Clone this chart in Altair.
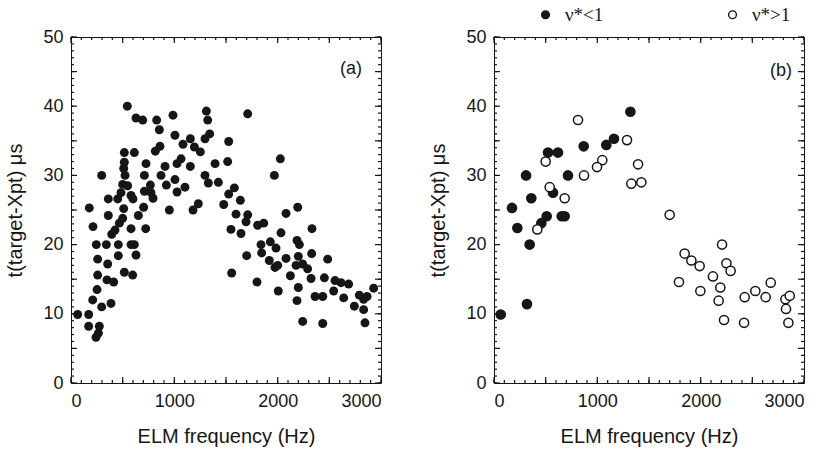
import altair as alt
import pandas as pd

# ---------------- data ----------------
# panel (a): all ELMs
a_freq = [545, 629, 694, 829, 855, 987, 1310, 1323, 1342, 1297, 1710, 1006, 1155, 1084, 1194,
          1252, 861, 816, 1526, 516, 613, 516, 510, 523, 726, 297, 710, 910, 1065, 1026,
          1155, 1516, 1394, 2026, 1968, 871, 1006, 1297, 1329, 1426, 500, 548, 768, 923, 1103,
          1026, 484, 581, 710, 774, 794, 361, 452, 600, 1526, 1581, 1639, 1232, 1478,
          177, 510, 703, 952, 1181, 2194,
          65, 171, 171, 274, 265, 242, 213, 245, 258, 258, 252, 210, 297, 387, 342, 355, 348,
          413, 361, 394, 426, 468, 500, 458, 458, 516, 581, 581, 613, 597, 629, 652, 723,
          1548, 1555, 1597, 1645, 1694, 1710, 1700, 1800, 1806, 1865, 1839, 1845, 1929, 1984,
          1919, 1974, 2000, 2006, 2032, 2081, 2081, 2123, 2187, 2210, 2200, 2178, 2242, 2200,
          2187, 2242, 2290, 2323, 2332, 2329, 2362, 2436, 2436, 2452, 2484, 2542, 2555, 2613,
          2639, 2687, 2742, 2790, 2832, 2865, 2832, 2845, 2929]
a_time = [40.0, 38.3, 38.0, 38.0, 36.6, 38.7, 39.3, 38.0, 36.0, 35.3, 38.9, 35.8, 35.3, 34.5, 34.1,
          33.4, 34.2, 33.5, 34.9, 33.3, 33.3, 31.9, 31.0, 30.0, 31.7, 30.0, 30.0, 31.3, 32.4, 31.7,
          31.3, 32.0, 31.7, 32.4, 30.0, 30.0, 29.4, 30.0, 28.9, 29.0, 28.7, 28.5, 28.6, 28.6, 28.3,
          27.6, 27.5, 27.1, 27.7, 27.5, 26.7, 26.6, 26.6, 26.6, 27.3, 28.2, 26.4, 25.9, 25.8,
          25.3, 25.2, 25.4, 25.0, 25.0, 25.4,
          9.9, 9.9, 8.2, 8.2, 7.2, 6.6, 22.6, 20.0, 17.9, 15.6, 13.5, 12.0, 11.0, 11.5, 20.0, 17.2, 14.9,
          14.6, 24.2, 21.5, 22.1, 23.1, 23.8, 20.0, 18.4, 16.0, 22.3, 20.0, 20.0, 15.6, 18.5, 24.2, 22.3,
          22.2, 15.9, 24.4, 21.6, 23.3, 24.3, 18.4, 14.6, 22.8, 23.1, 20.0, 18.8, 20.4, 19.5,
          17.7, 16.7, 17.0, 13.3, 21.7, 24.5, 18.0, 15.5, 20.6, 20.0, 18.3, 17.0, 17.2, 13.8,
          11.9, 8.9, 16.5, 15.1, 22.3, 18.7, 12.5, 12.5, 8.6, 15.2, 17.9, 13.3, 14.8, 14.5,
          12.3, 14.3, 11.1, 12.7, 12.1, 12.5, 10.6, 8.7, 13.7]

# panel (b): split by collisionality
low_label = "ν*<1"
high_label = "ν*>1"
b_low_freq = [1320, 1161, 1087, 868, 523, 619, 310, 716, 361, 571, 174, 510, 655, 684, 226, 458, 345, 319, 65]
b_low_time = [39.2, 35.3, 34.4, 34.2, 33.3, 33.3, 30.0, 30.0, 26.7, 27.5, 25.3, 24.1, 24.1, 24.1, 22.4, 23.1, 20.0, 11.4, 9.9]
b_high_freq = [813, 1287, 500, 1048, 997, 871, 1394, 1329, 1426, 539, 684, 1700, 419, 1845, 1910, 1990, 1790,
               1997, 2207, 2249, 2290, 2119, 2190, 2174, 2226, 2426, 2420, 2529, 2629, 2678, 2820, 2862, 2826, 2849]
b_high_time = [38.0, 35.1, 32.0, 32.2, 31.2, 30.0, 31.6, 28.8, 29.0, 28.3, 26.7, 24.3, 22.2, 18.7, 17.7, 16.9, 14.6,
               13.3, 20.0, 17.3, 16.2, 15.4, 13.8, 11.9, 9.1, 12.4, 8.7, 13.3, 12.4, 14.5, 12.1, 12.6, 10.7, 8.7]

x_major = list(range(0, 3001, 500))
x_minor = list(range(0, 3001, 100))
y_major = list(range(0, 51, 5))
y_minor = list(range(0, 51, 1))
x_labels = [0, 1000, 2000, 3000]
y_labels = [0, 10, 20, 30, 40, 50]

# ---------------- build ----------------
W, H = 310, 346
SANS = "Liberation Sans"
SERIF = "Liberation Serif"
INK = "#161616"
MAJ, MIN = 6, 3

df_a = pd.DataFrame({"f": a_freq, "t": a_time})
df_b = pd.concat([
    pd.DataFrame({"f": b_low_freq, "t": b_low_time, "g": low_label}),
    pd.DataFrame({"f": b_high_freq, "t": b_high_time, "g": high_label}),
], ignore_index=True)

xs = alt.Scale(domain=[0, 3000], nice=False, zero=False)
ys = alt.Scale(domain=[0, 50], nice=False, zero=False)

X_TITLE = "ELM frequency (Hz)"
Y_TITLE = "t(target-Xpt)  μs"

AXIS_STYLE = dict(ticks=False, domain=False, grid=False, format="d", labelFont=SANS,
                  labelFontSize=18, labelColor=INK, titleFont=SANS, titleFontSize=20,
                  titleColor=INK, titleFontWeight="normal")

X_AXIS = alt.Axis(orient="bottom", values=x_labels, title=X_TITLE, labelPadding=9,
                  titlePadding=16, **AXIS_STYLE)
Y_AXIS = alt.Axis(orient="left", values=y_labels, title=Y_TITLE, labelPadding=8,
                  titlePadding=17, **AXIS_STYLE)


def x_ticks(vals, length):
    d = pd.DataFrame({"xv": vals})
    enc_x = alt.X("xv:Q", scale=xs, axis=X_AXIS)
    bottom = alt.Chart(d).mark_rule(color=INK, strokeWidth=1.2).encode(
        x=enc_x, y=alt.value(H), y2=alt.value(H - length))
    top = alt.Chart(d).mark_rule(color=INK, strokeWidth=1.2).encode(
        x=enc_x, y=alt.value(0), y2=alt.value(length))
    return [bottom, top]


def y_ticks(vals, length):
    d = pd.DataFrame({"yv": vals})
    enc_y = alt.Y("yv:Q", scale=ys, axis=Y_AXIS)
    left = alt.Chart(d).mark_rule(color=INK, strokeWidth=1.2).encode(
        y=enc_y, x=alt.value(0), x2=alt.value(length))
    right = alt.Chart(d).mark_rule(color=INK, strokeWidth=1.2).encode(
        y=enc_y, x=alt.value(W), x2=alt.value(W - length))
    return [left, right]


def tick_layers():
    return x_ticks(x_minor, MIN) + x_ticks(x_major, MAJ) + y_ticks(y_minor, MIN) + y_ticks(y_major, MAJ)


def tag(text, px, py):
    return alt.Chart(pd.DataFrame({"lab": [text]})).mark_text(
        font=SANS, fontSize=18, color=INK, align="center", baseline="middle"
    ).encode(text="lab:N", x=alt.value(px), y=alt.value(py))


pts_a = alt.Chart(df_a).mark_circle(size=80, color=INK, opacity=1).encode(
    x=alt.X("f:Q", scale=xs, axis=X_AXIS), y=alt.Y("t:Q", scale=ys, axis=Y_AXIS))
panel_a = alt.layer(pts_a, *tick_layers(), tag("(a)", 280, 32)).properties(width=W, height=H)

pts_b = alt.Chart(df_b).mark_point(filled=True, size=84, stroke=INK, strokeWidth=1.5, opacity=1,
                                   shape="circle").encode(
    x=alt.X("f:Q", scale=xs, axis=X_AXIS), y=alt.Y("t:Q", scale=ys, axis=Y_AXIS),
    fill=alt.Fill("g:N", scale=alt.Scale(domain=[low_label, high_label], range=[INK, "white"]),
                  legend=alt.Legend(title=None, orient="none", direction="horizontal",
                                    legendX=465, legendY=-32, columnPadding=119, labelFont=SERIF,
                                    labelFontSize=19, labelColor=INK, labelOffset=10,
                                    symbolType="circle", symbolSize=60, symbolStrokeColor=INK,
                                    symbolStrokeWidth=1.4, padding=0)),
)
panel_b = alt.layer(pts_b, *tick_layers(), tag("(b)", 287, 34)).properties(width=W, height=H)

chart = alt.hconcat(panel_a, panel_b, spacing=45).properties(
    padding={"left": 5, "top": 5, "right": 5, "bottom": 5}, background="white"
).configure_view(stroke=INK, strokeWidth=1)

chart.save("out.html", embed_options={"renderer": "svg", "actions": False})
